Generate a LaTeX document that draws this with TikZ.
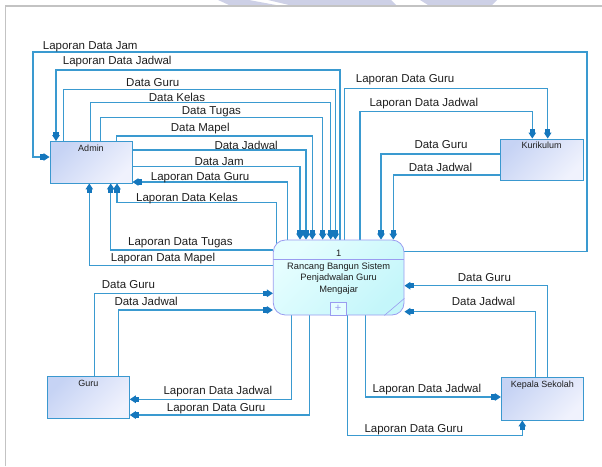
\documentclass[tikz,border=0pt]{standalone}
\usepackage{fontspec}
\setmainfont{Liberation Sans}
\usetikzlibrary{arrows.meta,calc,backgrounds}

\definecolor{flowC}{HTML}{3A9AD0}
\definecolor{tipC}{HTML}{1577BD}
\definecolor{entLine}{HTML}{3A98CF}
\definecolor{entA}{HTML}{C6D3F4}
\definecolor{entB}{HTML}{F0F2FD}
\definecolor{procLine}{HTML}{9A9CF0}
\definecolor{procA}{HTML}{E6FEFF}
\definecolor{procB}{HTML}{C4F6FA}
\definecolor{txtC}{HTML}{1E1E1E}
\definecolor{frameC}{HTML}{C3C3C3}
\definecolor{markC}{HTML}{CDD0E6}

\begin{document}
\begin{tikzpicture}[x=1pt,y=-1pt,
  entity/.style={draw=entLine, line width=0.9pt, top color=entA, bottom color=entB,
    shading angle=45, minimum width=82, minimum height=41.5, inner sep=0pt},
  process/.style={draw=procLine, line width=0.8pt, rounded corners=12pt,
    top color=procA, bottom color=procB, shading angle=45, inner sep=0pt},
  elab/.style={anchor=north, inner sep=0pt, text=txtC, font=\fontsize{9}{10}\selectfont},
  lab/.style={anchor=base west, inner sep=0pt, text=txtC, font=\fontsize{11.5}{13}\selectfont},
  flow/.style={draw=flowC, line width=1.15pt,
    -{Rectangle[length=3.5pt,width=5.5pt,sep=0pt,color=tipC]Triangle[length=6pt,width=7.5pt,sep=0pt,color=tipC]}}
]
\useasboundingbox (0,0) rectangle (602,466);

% faint mark along the top edge and the page frame
\fill[markC] (218,0) -- (249,0) -- (276,5) -- (229,5) -- cycle;
\fill[markC] (268,0) -- (391,0) -- (396,5) -- (289,5) -- cycle;
\fill[markC] (420,0) -- (497,0) -- (492,5) -- (428,5) -- cycle;
\draw[frameC, line width=1.8pt] (5.5,466) -- (5.5,6) -- (602,6);

% external entities
\node[entity] (admin) at (91,162.25) {};
\node[elab] (adminT) at ($(admin.north)+(0,3.5)$) {Admin};
\node[entity, minimum width=83, minimum height=41] (kur) at (541.5,159.5) {};
\node[elab] (kurT) at ($(kur.north)+(0,3.5)$) {Kurikulum};
\node[entity, minimum height=41.6] (guru) at (88.3,397.5) {};
\node[elab] (guruT) at ($(guru.north)+(0,3.5)$) {Guru};
\node[entity, minimum height=42.7] (kep) at (542.3,398.65) {};
\node[elab] (kepT) at ($(kep.north)+(0,3.5)$) {Kepala Sekolah};

% process
\node[process, minimum width=130.7, minimum height=75] (proc) at (338.65,277.5) {};
\draw[procLine, line width=0.8pt] ($(proc.north west)+(0,20)$) -- ($(proc.north east)+(0,20)$);
\draw[procLine, line width=0.6pt] ($(proc.south east)+(-20,0)$) -- ($(proc.south east)+(0,-17)$);
\node[inner sep=0pt, text=txtC, font=\fontsize{9.3}{11}\selectfont] (procNo) at ($(proc.north)+(0,13.5)$) {1};
\node[anchor=north, inner sep=0pt, align=center, text=txtC, font=\fontsize{9.3}{11.8}\selectfont]
  (procT) at ($(proc.north)+(0,22.5)$) {Rancang Bangun Sistem\\Penjadwalan Guru\\Mengajar};
\node[draw=procLine, line width=0.7pt, fill=procA, minimum width=16, minimum height=13.3,
  inner sep=0pt, text=procLine, font=\fontsize{11}{11}\selectfont] (plus) at ($(proc.south)+(-0.6,-6.7)$) {+};

% data flows
\begin{scope}[on background layer]
  % Admin <-> process
  \draw[flow] ($(proc.north east)+(0,12)$) -| (587,52) -| (33,157) -- (admin.west |- 0,157);
  \draw[flow] (340,0 |- proc.north) |- (56,70) -- (56,0 |- admin.north);
  \draw[flow] (63.3,0 |- admin.north) |- (335.3,89.3) -- (335.3,0 |- proc.north);
  \draw[flow] (90.7,0 |- admin.north) |- (330.7,102.3) -- (330.7,0 |- proc.north);
  \draw[flow] (100.7,0 |- admin.north) |- (322.7,117.7) -- (322.7,0 |- proc.north);
  \draw[flow] (116.7,0 |- admin.north) |- (312.3,136) -- (312.3,0 |- proc.north);
  \draw[flow] (admin.east |- 0,150) -| (306,0 |- proc.north);
  \draw[flow] (admin.east |- 0,166.7) -| (300,0 |- proc.north);
  \draw[flow] (287.3,0 |- proc.north) |- (admin.east |- 0,182);
  \draw[flow] ($(276.5,0 |- proc.north)+(0,6)$) |- (117,202.3) -- (117,0 |- admin.south);
  \draw[flow] (proc.west |- 0,250) -| (110.7,0 |- admin.south);
  \draw[flow] (proc.west |- 0,265.7) -| (89.3,0 |- admin.south);
  % Kurikulum <-> process
  \draw[flow] (344.3,0 |- proc.north) |- (547.7,88.3) -- (547.7,0 |- kur.north);
  \draw[flow] (360,0 |- proc.north) |- (532.3,111.7) -- (532.3,0 |- kur.north);
  \draw[flow] (kur.west |- 0,154) -| (381,0 |- proc.north);
  \draw[flow] (kur.west |- 0,175) -| (393.3,0 |- proc.north);
  % Guru <-> process
  \draw[flow] (94.3,0 |- guru.north) |- (proc.west |- 0,293.3);
  \draw[flow] (118.3,0 |- guru.north) |- (proc.west |- 0,310);
  \draw[flow] (291.7,0 |- proc.south) |- (guru.east |- 0,399.3);
  \draw[flow] (309.3,0 |- proc.south) |- (guru.east |- 0,415);
  % Kepala Sekolah <-> process
  \draw[flow] (547.3,0 |- kep.north) |- (proc.east |- 0,285.7);
  \draw[flow] (535.7,0 |- kep.north) |- (proc.east |- 0,311.7);
  \draw[flow] (365.7,0 |- proc.south) |- (kep.west |- 0,397);
  \draw[flow] (347.3,0 |- proc.south) |- (522.3,435.7) -- (522.3,0 |- kep.south);
\end{scope}

% flow labels
\node[lab] (lJam)    at (42.7,49.3)  {Laporan Data Jam};
\node[lab] (lJadA)   at (62.7,64.3)  {Laporan Data Jadwal};
\node[lab] (lGuruA)  at (126,86)     {Data Guru};
\node[lab] (lKelasA) at (148.7,101.3){Data Kelas};
\node[lab] (lTugasA) at (181.7,114)  {Data Tugas};
\node[lab] (lMapelA) at (170.7,131.7){Data Mapel};
\node[lab] (lJadwA)  at (214.3,149)  {Data Jadwal};
\node[lab] (lJamA)   at (194.3,165.5){Data Jam};
\node[lab] (lLGuruA) at (150.7,180.7){Laporan Data Guru};
\node[lab] (lLKelA)  at (136,201)    {Laporan Data Kelas};
\node[lab] (lLTugA)  at (128,245.7)  {Laporan Data Tugas};
\node[lab] (lLMapA)  at (110.7,261.7){Laporan Data Mapel};
\node[lab] (lLGuruK) at (355.7,82.7) {Laporan Data Guru};
\node[lab] (lLJadK)  at (369.3,106)  {Laporan Data Jadwal};
\node[lab] (lGuruK)  at (414.3,148.3){Data Guru};
\node[lab] (lJadK)   at (408.7,171)  {Data Jadwal};
\node[lab] (lGuruG)  at (101.7,288.3){Data Guru};
\node[lab] (lJadG)   at (114.3,305.7){Data Jadwal};
\node[lab] (lLJadG)  at (163.3,394)  {Laporan Data Jadwal};
\node[lab] (lLGuruG) at (166.7,411)  {Laporan Data Guru};
\node[lab] (lGuruS)  at (457.7,281.7){Data Guru};
\node[lab] (lJadS)   at (451.7,305)  {Data Jadwal};
\node[lab] (lLJadS)  at (372.3,392.7){Laporan Data Jadwal};
\node[lab] (lLGuruS) at (364.3,432.7){Laporan Data Guru};
\end{tikzpicture}
\end{document}
